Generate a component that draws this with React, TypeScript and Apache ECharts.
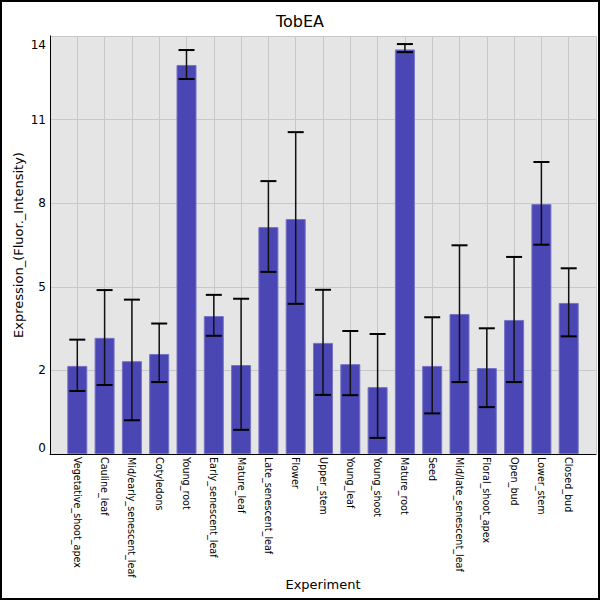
import React, { useEffect, useRef } from "react";
import * as echarts from "echarts";

const categories = [
  "Vegetative_shoot_apex",
  "Cauline_leaf",
  "Mid/early_senescent_leaf",
  "Cotyledons",
  "Young_root",
  "Early_senescent_leaf",
  "Mature_leaf",
  "Late_senescent_leaf",
  "Flower",
  "Upper_stem",
  "Young_leaf",
  "Young_shoot",
  "Mature_root",
  "Seed",
  "Mid/late_senescent_leaf",
  "Floral_shoot_apex",
  "Open_bud",
  "Lower_stem",
  "Closed_bud",
];

const values = [2.95, 3.89, 3.11, 3.35, 13.03, 4.62, 2.98, 7.6, 7.87, 3.72, 3.01, 2.24, 13.55, 2.95, 4.69, 2.88, 4.49, 8.37, 5.06];
const errHigh = [3.83, 5.49, 5.17, 4.37, 13.53, 5.33, 5.2, 9.14, 10.78, 5.5, 4.12, 4.02, 13.73, 4.58, 6.99, 4.21, 6.6, 9.78, 6.22];
const errLow = [2.11, 2.31, 1.13, 2.41, 12.56, 3.96, 0.81, 6.1, 5.03, 1.98, 1.97, 0.54, 13.46, 1.36, 2.41, 1.57, 2.41, 7.01, 3.94];

const yMin = 0;
const yMax = 14;
const yInterval = 2.8;

export default function App() {
  const ref = useRef<HTMLDivElement>(null);
  useEffect(() => {
    document.body.style.margin = "0";
    const chart = echarts.init(ref.current!, null, { renderer: "svg" });
    // pad the category axis with one empty slot on each side
    const axisCats = ["", ...categories, ""];
    const barData: any[] = ["-", ...values, "-"];
    const errData = categories.map((_, i) => [i + 1, errLow[i], errHigh[i]]);
    chart.setOption({
      animation: false,
      backgroundColor: "#ffffff",
      textStyle: { fontFamily: "DejaVu Sans" },
      title: {
        text: "TobEA",
        left: "center",
        top: 8,
        textStyle: { fontSize: 16, fontWeight: "normal", color: "#000", fontFamily: "DejaVu Sans" },
      },
      graphic: [
        {
          type: "rect",
          shape: { x: 1, y: 1, width: 598, height: 598 },
          style: { fill: "none", stroke: "#000", lineWidth: 2 },
          z: 100,
        },
      ],
      grid: {
        left: 50,
        right: 4,
        top: 36,
        bottom: 146,
        show: true,
        backgroundColor: "#e5e5e5",
        borderWidth: 0,
        containLabel: false,
        outerBoundsMode: "none",
      },
      xAxis: {
        type: "category",
        data: axisCats,
        boundaryGap: false,
        name: "Experiment",
        nameLocation: "middle",
        nameGap: 124,
        nameMoveOverlap: false,
        nameTextStyle: { fontSize: 13, color: "#000", fontFamily: "DejaVu Sans" },
        axisLine: { show: true, lineStyle: { color: "#000", width: 1 } },
        axisTick: { show: false },
        axisLabel: {
          rotate: -90,
          interval: 0,
          fontSize: 9.6,
          color: "#000",
          margin: 3,
          fontFamily: "DejaVu Sans",
        },
        splitLine: { show: true, interval: 0, lineStyle: { color: "#c8c8c8", width: 1 } },
      },
      yAxis: {
        type: "value",
        min: yMin,
        max: yMax,
        interval: yInterval,
        name: "Expression_(Fluor._Intensity)",
        nameLocation: "middle",
        nameGap: 25,
        nameMoveOverlap: false,
        nameTextStyle: { fontSize: 13, color: "#000", fontFamily: "DejaVu Sans" },
        axisLine: { show: true, lineStyle: { color: "#000", width: 1 } },
        axisTick: { show: false },
        axisLabel: {
          fontSize: 12,
          color: "#000",
          margin: 4,
          fontFamily: "DejaVu Sans",
          formatter: (v: number) => {
            const s = String(Math.floor(v + 1e-9));
            if (Math.abs(v - yMin) < 1e-6) return "{lo|" + s + "}";
            if (Math.abs(v - yMax) < 1e-6) return "{hi|" + s + "}";
            return s;
          },
          rich: {
            lo: { fontSize: 12, color: "#000", padding: [0, 0, 12, 0] },
            hi: { fontSize: 12, color: "#000", padding: [18, 0, 0, 0] },
          },
        },
        splitLine: { show: true, lineStyle: { color: "#c8c8c8", width: 1 } },
      },
      series: [
        {
          type: "bar",
          data: barData,
          barWidth: 20,
          itemStyle: { color: "#4a46b4", borderColor: "#7672c6", borderWidth: 1 },
        },
        {
          type: "custom",
          data: errData,
          z: 10,
          renderItem: (params: any, api: any) => {
            const x = api.value(0);
            const lo = api.coord([x, api.value(1)]);
            const hi = api.coord([x, api.value(2)]);
            const hw = 8;
            return {
              type: "group",
              children: [
                {
                  type: "line",
                  shape: { x1: lo[0], y1: lo[1], x2: hi[0], y2: hi[1] },
                  style: { stroke: "#111", lineWidth: 1.5 },
                },
                {
                  type: "line",
                  shape: { x1: lo[0] - hw, y1: lo[1], x2: lo[0] + hw, y2: lo[1] },
                  style: { stroke: "#000", lineWidth: 2 },
                },
                {
                  type: "line",
                  shape: { x1: hi[0] - hw, y1: hi[1], x2: hi[0] + hw, y2: hi[1] },
                  style: { stroke: "#000", lineWidth: 2 },
                },
              ],
            };
          },
        },
      ],
    });
    return () => chart.dispose();
  }, []);
  return <div ref={ref} style={{ width: 600, height: 600 }} />;
}
